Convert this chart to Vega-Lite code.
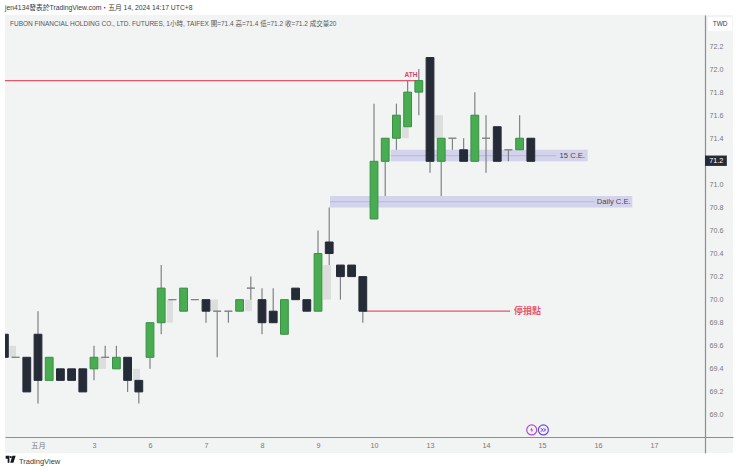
{
  "$schema": "https://vega.github.io/schema/vega-lite/v6.json",
  "title": {
    "text": "jen4134發表於TradingView.com・五月 14, 2024 14:17 UTC+8",
    "anchor": "start",
    "frame": "group",
    "font": "Liberation Sans, Noto Sans CJK TC",
    "fontSize": 6.8,
    "fontWeight": "normal",
    "color": "#3a3a3a",
    "offset": 3
  },
  "autosize": "none",
  "padding": {"left": 5, "top": 15, "right": 7, "bottom": 19},
  "width": 728,
  "height": 438,
  "background": "white",
  "config": {
    "view": {"fill": "#f2f3f3", "stroke": null},
    "text": {"font": "Liberation Sans, Noto Sans CJK TC"}
  },
  "datasets": {
    "candles": [
      {"bar": -3, "open": 69.7, "close": 69.5, "high": 69.7, "low": 69.5, "dir": "down"},
      {"bar": -2, "open": 69.5, "close": 69.5, "high": 69.5, "low": 69.5, "dir": "flat"},
      {"bar": -1, "open": 69.5, "close": 69.2, "high": 69.5, "low": 69.2, "dir": "down"},
      {"bar": 0, "open": 69.7, "close": 69.3, "high": 69.9, "low": 69.1, "dir": "down"},
      {"bar": 1, "open": 69.3, "close": 69.5, "high": 69.5, "low": 69.3, "dir": "up"},
      {"bar": 2, "open": 69.4, "close": 69.3, "high": 69.4, "low": 69.3, "dir": "down"},
      {"bar": 3, "open": 69.4, "close": 69.3, "high": 69.4, "low": 69.3, "dir": "down"},
      {"bar": 4, "open": 69.4, "close": 69.2, "high": 69.4, "low": 69.2, "dir": "down"},
      {"bar": 5, "open": 69.4, "close": 69.5, "high": 69.6, "low": 69.3, "dir": "up"},
      {"bar": 6, "open": 69.5, "close": 69.5, "high": 69.6, "low": 69.5, "dir": "flat"},
      {"bar": 7, "open": 69.4, "close": 69.5, "high": 69.6, "low": 69.4, "dir": "up"},
      {"bar": 8, "open": 69.5, "close": 69.3, "high": 69.5, "low": 69.2, "dir": "down"},
      {"bar": 9, "open": 69.3, "close": 69.2, "high": 69.3, "low": 69.1, "dir": "down"},
      {"bar": 10, "open": 69.5, "close": 69.8, "high": 69.8, "low": 69.4, "dir": "up"},
      {"bar": 11, "open": 69.8, "close": 70.1, "high": 70.3, "low": 69.7, "dir": "up"},
      {"bar": 12, "open": 70.0, "close": 70.0, "high": 70.0, "low": 70.0, "dir": "flat"},
      {"bar": 13, "open": 69.9, "close": 70.1, "high": 70.1, "low": 69.9, "dir": "up"},
      {"bar": 14, "open": 70.0, "close": 70.0, "high": 70.0, "low": 70.0, "dir": "flat"},
      {"bar": 15, "open": 70.0, "close": 69.9, "high": 70.0, "low": 69.8, "dir": "down"},
      {"bar": 16, "open": 69.9, "close": 69.9, "high": 69.9, "low": 69.5, "dir": "flat"},
      {"bar": 17, "open": 69.9, "close": 69.9, "high": 69.9, "low": 69.8, "dir": "flat"},
      {"bar": 18, "open": 69.9, "close": 70.0, "high": 70.0, "low": 69.9, "dir": "up"},
      {"bar": 19, "open": 70.1, "close": 70.1, "high": 70.2, "low": 70.0, "dir": "flat"},
      {"bar": 20, "open": 70.0, "close": 69.8, "high": 70.1, "low": 69.7, "dir": "down"},
      {"bar": 21, "open": 69.9, "close": 69.8, "high": 70.1, "low": 69.8, "dir": "down"},
      {"bar": 22, "open": 69.7, "close": 70.0, "high": 70.0, "low": 69.7, "dir": "up"},
      {"bar": 23, "open": 70.1, "close": 70.0, "high": 70.1, "low": 70.0, "dir": "down"},
      {"bar": 24, "open": 70.0, "close": 69.9, "high": 70.0, "low": 69.9, "dir": "down"},
      {"bar": 25, "open": 69.9, "close": 70.4, "high": 70.6, "low": 69.9, "dir": "up"},
      {"bar": 26, "open": 70.5, "close": 70.4, "high": 70.8, "low": 70.3, "dir": "down"},
      {"bar": 27, "open": 70.3, "close": 70.2, "high": 70.3, "low": 70.0, "dir": "down"},
      {"bar": 28, "open": 70.3, "close": 70.2, "high": 70.3, "low": 70.2, "dir": "down"},
      {"bar": 29, "open": 70.2, "close": 69.9, "high": 70.2, "low": 69.8, "dir": "down"},
      {"bar": 30, "open": 70.7, "close": 71.2, "high": 71.7, "low": 70.7, "dir": "up"},
      {"bar": 31, "open": 71.2, "close": 71.4, "high": 71.4, "low": 70.9, "dir": "up"},
      {"bar": 32, "open": 71.4, "close": 71.6, "high": 71.7, "low": 71.3, "dir": "up"},
      {"bar": 33, "open": 71.5, "close": 71.8, "high": 71.9, "low": 71.5, "dir": "up"},
      {"bar": 34, "open": 71.8, "close": 71.9, "high": 72.0, "low": 71.6, "dir": "up"},
      {"bar": 35, "open": 72.1, "close": 71.2, "high": 72.1, "low": 71.1, "dir": "down"},
      {"bar": 36, "open": 71.2, "close": 71.4, "high": 71.4, "low": 70.9, "dir": "up"},
      {"bar": 37, "open": 71.4, "close": 71.4, "high": 71.4, "low": 71.3, "dir": "flat"},
      {"bar": 38, "open": 71.3, "close": 71.2, "high": 71.4, "low": 71.2, "dir": "down"},
      {"bar": 39, "open": 71.2, "close": 71.6, "high": 71.8, "low": 71.2, "dir": "up"},
      {"bar": 40, "open": 71.4, "close": 71.4, "high": 71.6, "low": 71.1, "dir": "flat"},
      {"bar": 41, "open": 71.5, "close": 71.2, "high": 71.5, "low": 71.2, "dir": "down"},
      {"bar": 42, "open": 71.3, "close": 71.3, "high": 71.3, "low": 71.2, "dir": "flat"},
      {"bar": 43, "open": 71.3, "close": 71.4, "high": 71.6, "low": 71.3, "dir": "up"},
      {"bar": 44, "open": 71.4, "close": 71.2, "high": 71.4, "low": 71.2, "dir": "down"}
    ],
    "ghosts": [
      {"from": -2.56, "to": -1.96, "top": 69.6, "bottom": 69.5},
      {"from": 5.45, "to": 6.07, "top": 69.5, "bottom": 69.4},
      {"from": 8.48, "to": 9.1, "top": 69.4, "bottom": 69.3},
      {"from": 11.5, "to": 12.05, "top": 70.0, "bottom": 69.8},
      {"from": 15.45, "to": 16.07, "top": 70.0, "bottom": 69.9},
      {"from": 18.48, "to": 19.1, "top": 70.0, "bottom": 69.9},
      {"from": 25.45, "to": 26.16, "top": 70.3, "bottom": 70.0},
      {"from": 32.5, "to": 33.1, "top": 71.5, "bottom": 71.4},
      {"from": 35.45, "to": 36.16, "top": 71.6, "bottom": 71.4}
    ],
    "zones": [
      {"from": 31.5, "to": 49.08, "top": 71.3, "bottom": 71.2},
      {"from": 26.07, "to": 53.06, "top": 70.9, "bottom": 70.8}
    ],
    "levels": [
      {"from": 31.5, "to": 46.25, "price": 71.25, "kind": "mid"},
      {"from": 26.07, "to": 49.7, "price": 70.85, "kind": "mid"},
      {"from": -2.946, "to": 33.75, "price": 71.9, "kind": "red"},
      {"from": 29, "to": 42.15, "price": 69.9, "kind": "red"}
    ]
  },
  "encoding": {
    "x": {
      "type": "quantitative",
      "scale": {"domain": [-2.946, 62.05], "nice": false, "zero": false, "padding": 0},
      "axis": {
        "title": null,
        "orient": "bottom",
        "offset": -16,
        "values": [0, 5, 10, 15, 20, 25, 30, 35, 40, 45, 50, 55],
        "labelExpr": "{'0':'五月','5':'3','10':'6','15':'7','20':'8','25':'9','30':'10','35':'13','40':'14','45':'15','50':'16','55':'17'}[datum.value]",
        "grid": false,
        "ticks": false,
        "domainColor": "#8c8e8f",
        "domainWidth": 1.2,
        "labelColor": "#77797b",
        "labelFont": "Liberation Sans, Noto Sans CJK TC",
        "labelFontSize": 7.2,
        "labelPadding": 4,
        "labelFlush": false
      }
    },
    "y": {
      "type": "quantitative",
      "scale": {"domain": [68.67, 72.469], "nice": false, "zero": false},
      "axis": {
        "title": null,
        "orient": "right",
        "offset": -28,
        "values": [69.0, 69.2, 69.4, 69.6, 69.8, 70.0, 70.2, 70.4, 70.6, 70.8, 71.0, 71.4, 71.6, 71.8, 72.0, 72.2],
        "format": ".1f",
        "grid": false,
        "ticks": false,
        "domainColor": "#8c8e8f",
        "domainWidth": 1.2,
        "labelColor": "#77797b",
        "labelFont": "Liberation Sans",
        "labelFontSize": 7.2,
        "labelPadding": 4
      }
    }
  },
  "resolve": {"scale": {"color": "independent", "fill": "independent", "stroke": "independent"}},
  "layer": [
    {
      "data": {"name": "ghosts"},
      "mark": {"type": "rect", "color": "#dcdedd"},
      "encoding": {
        "x": {"field": "from"},
        "x2": {"field": "to"},
        "y": {"field": "top"},
        "y2": {"field": "bottom"}
      }
    },
    {
      "data": {"name": "zones"},
      "mark": {"type": "rect", "color": "#d3d3ec"},
      "encoding": {
        "x": {"field": "from"},
        "x2": {"field": "to"},
        "y": {"field": "top"},
        "y2": {"field": "bottom"}
      }
    },
    {
      "data": {"name": "levels"},
      "mark": {"type": "rule", "strokeWidth": 1.2},
      "encoding": {
        "x": {"field": "from"},
        "x2": {"field": "to"},
        "y": {"field": "price"},
        "color": {
          "field": "kind",
          "type": "nominal",
          "legend": null,
          "scale": {"domain": ["mid", "red"], "range": ["#bdbde0", "#e4566c"]}
        }
      }
    },
    {
      "data": {"name": "candles"},
      "mark": {"type": "rule", "color": "#7f8284", "strokeWidth": 1.2, "clip": true},
      "encoding": {
        "x": {"field": "bar"},
        "y": {"field": "low"},
        "y2": {"field": "high"}
      }
    },
    {
      "data": {"name": "candles"},
      "mark": {"type": "bar", "orient": "vertical", "size": 7.8, "strokeWidth": 1, "clip": true},
      "encoding": {
        "x": {"field": "bar"},
        "y": {"field": "open"},
        "y2": {"field": "close"},
        "fill": {
          "field": "dir",
          "type": "nominal",
          "legend": null,
          "scale": {"domain": ["up", "down", "flat"], "range": ["#47ad50", "#262b38", "#7f8284"]}
        },
        "stroke": {
          "field": "dir",
          "type": "nominal",
          "legend": null,
          "scale": {"domain": ["up", "down", "flat"], "range": ["#3a8f44", "#262b38", "#7f8284"]}
        }
      }
    },
    {
      "data": {"values": [
        {"from": 59.82, "to": 61.96, "top": 72.45, "bottom": 72.33, "kind": "unit"},
        {"from": 59.55, "to": 61.5, "top": 71.25, "bottom": 71.16, "kind": "last"}
      ]},
      "mark": {"type": "rect"},
      "encoding": {
        "x": {"field": "from"},
        "x2": {"field": "to"},
        "y": {"field": "top"},
        "y2": {"field": "bottom"},
        "fill": {
          "field": "kind",
          "type": "nominal",
          "legend": null,
          "scale": {"domain": ["unit", "last"], "range": ["#ffffff", "#262b38"]}
        }
      }
    },
    {
      "data": {"values": [
        {"bar": -2.5, "price": 72.39, "label": "FUBON FINANCIAL HOLDING CO., LTD. FUTURES, 1小時, TAIFEX  開=71.4  高=71.4  低=71.2  收=71.2  成交量20"}
      ]},
      "mark": {"type": "text", "align": "left", "baseline": "middle", "fontSize": 6.5, "color": "#55585b"},
      "encoding": {
        "x": {"field": "bar"},
        "y": {"field": "price"},
        "text": {"field": "label"}
      }
    },
    {
      "data": {"values": [
        {"bar": -1.7, "price": 68.592, "label": "TradingView"}
      ]},
      "mark": {"type": "text", "align": "left", "baseline": "middle", "fontSize": 7.5, "color": "#3a3a3a"},
      "encoding": {
        "x": {"field": "bar"},
        "y": {"field": "price"},
        "text": {"field": "label"}
      }
    },
    {
      "data": {"values": [
        {"bar": -2.44, "price": 68.615}
      ]},
      "mark": {
        "type": "point",
        "filled": true,
        "opacity": 1,
        "color": "#131722",
        "size": 100,
        "shape": "M-1,-0.7 H-0.25 V0.7 H-0.6 V-0.1 H-1 Z M-0.18,-0.45 A0.2,0.2 0 1 0 0.22,-0.45 A0.2,0.2 0 1 0 -0.18,-0.45 Z M0.35,-0.7 H1 L0.55,0.7 H-0.1 Z"
      },
      "encoding": {
        "x": {"field": "bar"},
        "y": {"field": "price"}
      }
    },
    {
      "data": {"values": [
        {"bar": 60.9, "price": 72.39, "label": "TWD"}
      ]},
      "mark": {"type": "text", "align": "center", "baseline": "middle", "fontSize": 6.5, "color": "#3a3a3a"},
      "encoding": {
        "x": {"field": "bar"},
        "y": {"field": "price"},
        "text": {"field": "label"}
      }
    },
    {
      "data": {"values": [
        {"bar": 60.55, "price": 71.2, "label": "71.2"}
      ]},
      "mark": {"type": "text", "align": "center", "baseline": "middle", "fontSize": 7.2, "color": "#ffffff"},
      "encoding": {
        "x": {"field": "bar"},
        "y": {"field": "price"},
        "text": {"field": "label"}
      }
    },
    {
      "data": {"values": [
        {"bar": 33.3, "price": 71.95, "label": "ATH"}
      ]},
      "mark": {"type": "text", "align": "center", "baseline": "middle", "fontSize": 6.5, "fontWeight": "bold", "color": "#e4405f"},
      "encoding": {
        "x": {"field": "bar"},
        "y": {"field": "price"},
        "text": {"field": "label"}
      }
    },
    {
      "data": {"values": [
        {"bar": 43.7, "price": 69.9, "label": "停損點"}
      ]},
      "mark": {"type": "text", "align": "center", "baseline": "middle", "fontSize": 9, "fontWeight": "bold", "color": "#e4566c"},
      "encoding": {
        "x": {"field": "bar"},
        "y": {"field": "price"},
        "text": {"field": "label"}
      }
    },
    {
      "data": {"values": [
        {"bar": 47.7, "price": 71.25, "label": "15 C.E."},
        {"bar": 51.4, "price": 70.85, "label": "Daily C.E."}
      ]},
      "mark": {"type": "text", "align": "center", "baseline": "middle", "fontSize": 7.6, "color": "#45455f"},
      "encoding": {
        "x": {"field": "bar"},
        "y": {"field": "price"},
        "text": {"field": "label"}
      }
    },
    {
      "data": {"values": [
        {"bar": 44.08, "price": 68.87, "kind": "bolt"},
        {"bar": 45.12, "price": 68.87, "kind": "arrow"}
      ]},
      "mark": {"type": "point", "filled": false, "opacity": 1, "size": 100, "fill": "#f2f3f3", "strokeWidth": 1.2},
      "encoding": {
        "x": {"field": "bar"},
        "y": {"field": "price"},
        "stroke": {
          "field": "kind",
          "type": "nominal",
          "legend": null,
          "scale": {"domain": ["bolt", "arrow"], "range": ["#b24ad6", "#6a4be0"]}
        }
      }
    },
    {
      "data": {"values": [
        {"bar": 44.08, "price": 68.87}
      ]},
      "mark": {
        "type": "point",
        "filled": true,
        "opacity": 1,
        "color": "#b24ad6",
        "size": 30,
        "shape": "M0.15,-1 L-0.6,0.15 H-0.05 L-0.15,1 L0.6,-0.15 H0.05 Z"
      },
      "encoding": {
        "x": {"field": "bar"},
        "y": {"field": "price"}
      }
    },
    {
      "data": {"values": [
        {"bar": 45.12, "price": 68.87}
      ]},
      "mark": {
        "type": "point",
        "filled": false,
        "opacity": 1,
        "color": "#6a4be0",
        "strokeWidth": 1,
        "size": 30,
        "shape": "M-1,-0.6 L-0.1,0 L-1,0.6 M0,-0.6 L0.9,0 L0,0.6"
      },
      "encoding": {
        "x": {"field": "bar"},
        "y": {"field": "price"}
      }
    }
  ]
}
